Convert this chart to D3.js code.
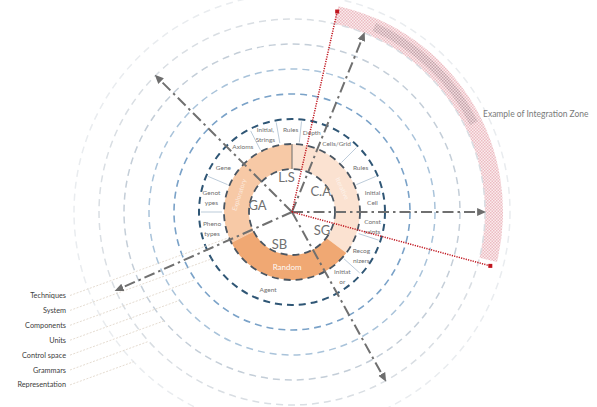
<!DOCTYPE html>
<html><head><meta charset="utf-8">
<script src="https://cdn.jsdelivr.net/npm/d3@7"></script>
<style>html,body{margin:0;padding:0;background:#fff;}svg{display:block;font-family:Lato,"Open Sans",sans-serif;}</style>
</head><body>
<svg id="chart" width="597" height="407"></svg>
<script>
// ---------- data ----------
const circleLevels = [0, 1, 2, 3, 4, 5, 6, 7];
const sectorNames = ["L.S", "C.A", "SG", "SB", "GA"];
const sectorAngles = [-99, -35, 31, 111, 190];
const axisAngles = [-135, -68, 0, 61, 156];
const ringNames = ["Exploratory", "Iterative", "Random"];
const ringStart = [153, -90, 37];
const ringEnd = [270, 37, 153];
const featureLabels = [["Initial,", "Strings"], ["Rules"], ["Depth"], ["Cells/Grid"], ["Rules"], ["Initial", "Cell"], ["Const", "raints"], ["Recog", "nizers"], ["Initiat", "or"], ["Agent"], ["Pheno", "types"], ["Genot", "ypes"], ["Gene"], ["Axioms"]];
const featureAngles = [-109, -91, -76, -57, -33, -10, 10, 32, 52, 107, 168, 190, 213, 233];
const separatorAngles = [-117, -100, -84, -45, -23, 18, 42, 180, 203];
const levelLabels = ["Techniques", "System", "Components", "Units", "Control space", "Grammars", "Representation"];
const levelTargets = [1, 2, 3, 4, 5, 6, 7];
const zoneAngles = [-77.3, 15.2];
const zoneDarkAngles = [-66, -26];
const zoneLevel = 6.5;
const zoneTitle = "Example of Integration Zone";

// ---------- setup ----------
const W = 597, H = 407, cx = 292, cy = 212;
const svg = d3.select("#chart");
const r = d3.scaleLinear().domain([0, 7]).range([43, 218]);
const rad = d3.scaleLinear().domain([0, 180]).range([0, Math.PI]);
const pt = (a, rr) => [cx + rr * Math.cos(rad(a)), cy + rr * Math.sin(rad(a))];
const g = svg.append("g");

const defs = svg.append("defs");
defs.append("marker").attr("id", "arr").attr("viewBox", "0 -4 8 8").attr("refX", 7).attr("refY", 0)
  .attr("markerWidth", 4.5).attr("markerHeight", 4.5).attr("orient", "auto").attr("markerUnits", "strokeWidth")
  .append("path").attr("d", "M0,-3.5L8,0L0,3.5Z").attr("fill", "#6e6e6e");
function checker(id, bg, fg) {
  const p = defs.append("pattern").attr("id", id).attr("width", 3).attr("height", 3).attr("patternUnits", "userSpaceOnUse");
  p.append("rect").attr("width", 3).attr("height", 3).attr("fill", bg);
  p.append("rect").attr("width", 1.5).attr("height", 1.5).attr("fill", fg);
  p.append("rect").attr("x", 1.5).attr("y", 1.5).attr("width", 1.5).attr("height", 1.5).attr("fill", fg);
}
checker("hatch", "#fbecee", "#ecbcc2");
checker("hatch2", "#f1d3d7", "#a8939a");

// ---------- integration zone band ----------
const arc = d3.arc();
const toD3 = a => rad(a + 90);
g.append("path").attr("transform", `translate(${cx},${cy})`)
  .attr("d", arc({innerRadius: r(6.0), outerRadius: r(6.72), startAngle: toD3(zoneAngles[0]), endAngle: toD3(zoneAngles[1] - 1.5)}))
  .attr("fill", "url(#hatch)");
g.append("path").attr("transform", `translate(${cx},${cy})`)
  .attr("d", arc({innerRadius: r(6.2), outerRadius: r(6.55), startAngle: toD3(zoneDarkAngles[0]), endAngle: toD3(zoneDarkAngles[1])}))
  .attr("fill", "url(#hatch2)").attr("opacity", 0.6);

// ---------- level circles ----------
const circleColors = ["#4a5662", "#4a5662", "#2f5675", "#7aa2c8", "#a9c3da", "#c4ced8", "#d9dee3", "#e9ecef"];
const circleWidths = [1.8, 1.8, 2, 1.6, 1.5, 1.5, 1.5, 1.5];
g.selectAll("circle.lvl").data(circleLevels.slice(2)).enter().append("circle")
  .attr("class", "lvl").attr("cx", cx).attr("cy", cy).attr("r", d => r(d))
  .attr("fill", "none").attr("stroke", d => circleColors[d]).attr("stroke-width", d => circleWidths[d])
  .attr("stroke-dasharray", "7,5");

// ---------- ring segments ----------
const ringColors = ["#f7c9a6", "#fbe2d1", "#f0a873"];
g.selectAll("path.ring").data(ringNames).enter().append("path")
  .attr("class", "ring").attr("transform", `translate(${cx},${cy})`)
  .attr("d", (d, i) => arc({innerRadius: r(0), outerRadius: r(1), startAngle: toD3(ringStart[i]), endAngle: toD3(ringEnd[i])}))
  .attr("fill", (d, i) => ringColors[i]);
g.append("line").attr("x1", pt(-90, r(0))[0]).attr("y1", pt(-90, r(0))[1])
  .attr("x2", pt(-90, r(1))[0]).attr("y2", pt(-90, r(1))[1]).attr("stroke", "#6a6a6a").attr("stroke-width", 1);
const ringTextPos = [[198, 55.5, -72], [-25, 55.5, 65], [95, 55.5, 0]];
g.selectAll("text.ring").data(ringNames).enter().append("text")
  .attr("class", "ring")
  .attr("transform", (d, i) => { const p = pt(ringTextPos[i][0], ringTextPos[i][1]); return `translate(${p[0]},${p[1]}) rotate(${ringTextPos[i][2]})`; })
  .attr("text-anchor", "middle").attr("dy", "0.35em").attr("fill", "#fff").attr("font-size", (d, i) => i === 2 ? 8 : 6.5)
  .attr("opacity", (d, i) => i === 2 ? 0.95 : 0.6).text(d => d);

g.selectAll("circle.inner").data(circleLevels.slice(0, 2)).enter().append("circle")
  .attr("class", "inner").attr("cx", cx).attr("cy", cy).attr("r", d => r(d))
  .attr("fill", "none").attr("stroke", d => circleColors[d]).attr("stroke-width", d => circleWidths[d])
  .attr("stroke-dasharray", "7,5");

// ---------- feature separators and labels ----------
g.selectAll("line.sep").data(separatorAngles).enter().append("line")
  .attr("x1", d => pt(d, r(1) + 2)[0]).attr("y1", d => pt(d, r(1) + 2)[1])
  .attr("x2", d => pt(d, r(2) - 2)[0]).attr("y2", d => pt(d, r(2) - 2)[1])
  .attr("stroke", "#9fb4c8").attr("stroke-width", 0.7);
const fl = g.selectAll("text.feat").data(featureLabels).enter().append("text")
  .attr("class", "feat").attr("text-anchor", "middle").attr("font-size", 6.5).attr("fill", "#6f6f6f")
  .attr("x", (d, i) => pt(featureAngles[i], r(1.55))[0])
  .attr("y", (d, i) => pt(featureAngles[i], r(1.55))[1] + (d.length === 2 ? -2.5 : 2.2));
fl.each(function (d) {
  const t = d3.select(this);
  d.forEach((s, k) => t.append("tspan").attr("x", t.attr("x")).attr("dy", k === 0 ? 0 : 10).text(s));
});

// ---------- sector labels ----------
g.selectAll("text.sector").data(sectorNames).enter().append("text")
  .attr("class", "sector").attr("text-anchor", "middle").attr("dy", "0.35em")
  .attr("x", (d, i) => pt(sectorAngles[i], 35)[0]).attr("y", (d, i) => pt(sectorAngles[i], 35)[1])
  .attr("font-size", 13).attr("fill", "#707070").text(d => d);

// ---------- level labels with leader lines ----------
const labelX = 66, labelY0 = 298, labelStep = 14.9, leadAng = -20;
function hit(x0, y0, rr) {
  const dx = Math.cos(rad(leadAng)), dy = Math.sin(rad(leadAng));
  const px = x0 - cx, py = y0 - cy;
  const b = px * dx + py * dy, c = px * px + py * py - rr * rr;
  const t = -b - Math.sqrt(b * b - c);
  return [x0 + t * dx, y0 + t * dy];
}
g.selectAll("line.lead").data(levelLabels).enter().append("line")
  .attr("x1", labelX + 4).attr("y1", (d, i) => labelY0 + i * labelStep - 2.5)
  .attr("x2", (d, i) => hit(labelX + 4, labelY0 + i * labelStep - 2.5, r(levelTargets[i]))[0])
  .attr("y2", (d, i) => hit(labelX + 4, labelY0 + i * labelStep - 2.5, r(levelTargets[i]))[1])
  .attr("stroke", "#e2d8cc").attr("stroke-width", 0.9).attr("stroke-dasharray", "2,1.5");
g.selectAll("text.lvl").data(levelLabels).enter().append("text")
  .attr("x", labelX).attr("y", (d, i) => labelY0 + i * labelStep)
  .attr("text-anchor", "end").attr("font-size", 7.3).attr("fill", "#404040").text(d => d);

// ---------- axes arrows ----------
g.selectAll("line.axis").data(axisAngles).enter().append("line")
  .attr("x1", cx).attr("y1", cy)
  .attr("x2", d => pt(d, r(6))[0]).attr("y2", d => pt(d, r(6))[1])
  .attr("stroke", "#707070").attr("stroke-width", 2).attr("stroke-dasharray", "11,4,2.5,4")
  .attr("marker-end", "url(#arr)");

// ---------- integration zone red lines ----------
g.selectAll("line.zone").data(zoneAngles).enter().append("line")
  .attr("x1", cx).attr("y1", cy)
  .attr("x2", d => pt(d, r(zoneLevel))[0]).attr("y2", d => pt(d, r(zoneLevel))[1])
  .attr("stroke", "#c0161f").attr("stroke-width", 1.5).attr("stroke-dasharray", "1.2,1.2");
g.selectAll("rect.zone").data(zoneAngles).enter().append("rect")
  .attr("x", d => pt(d, r(zoneLevel))[0] - 2).attr("y", d => pt(d, r(zoneLevel))[1] - 2)
  .attr("width", 4).attr("height", 4).attr("fill", "#c0161f");
g.append("text").attr("x", 483).attr("y", 117).attr("font-size", 8.5).attr("fill", "#7a7a7a").text(zoneTitle);
</script>
</body></html>
